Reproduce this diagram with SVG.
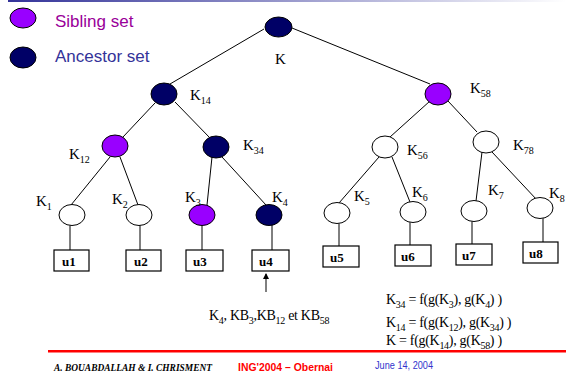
<svg xmlns="http://www.w3.org/2000/svg" width="566" height="374" viewBox="0 0 566 374">
<style>
.e{stroke:#000;stroke-width:1}
.sib{fill:#9900ff}
.anc{fill:#000066}
.wh{fill:#fff}
.lbl{font-family:"Liberation Serif","Times New Roman",serif;font-size:15px;fill:#000}
.s{font-size:10px}
.box{fill:#fff;stroke:#000;stroke-width:1.2}
.bt{font-family:"Liberation Serif","Times New Roman",serif;font-size:13px;font-weight:bold;fill:#000}
.f{font-family:"Liberation Serif","Times New Roman",serif;font-size:14px;fill:#000;letter-spacing:-0.3px}
#connectors line{stroke:#000;stroke-width:1}
</style>
<defs>
<linearGradient id="top" x1="0" y1="0" x2="1" y2="0">
<stop offset="0" stop-color="#333399"/>
<stop offset="1" stop-color="#ffffff"/>
</linearGradient>
<marker id="ah" viewBox="0 0 6 6" refX="5" refY="3" markerWidth="6" markerHeight="6" orient="auto">
<path d="M0,0 L6,3 L0,6 z" fill="#000"/>
</marker>
</defs>
<rect x="8" y="0" width="558" height="2" fill="url(#top)"/>

<g id="legend">
<ellipse class="e sib" cx="23" cy="18" rx="13" ry="10"/>
<text x="55" y="27" font-family="Liberation Sans,Arial,sans-serif" font-size="17" fill="#990099">Sibling set</text>
<ellipse class="e anc" cx="23" cy="57.5" rx="13" ry="10.5"/>
<text x="55" y="62" font-family="Liberation Sans,Arial,sans-serif" font-size="17" fill="#333399">Ancestor set</text>
</g>

<g id="connectors">
<line x1="264" y1="29" x2="170" y2="84"/>
<line x1="292" y1="28" x2="430" y2="84"/>
<line x1="155" y1="103" x2="123" y2="137"/>
<line x1="175" y1="102" x2="210" y2="138"/>
<line x1="110" y1="157" x2="71" y2="205"/>
<line x1="120" y1="157" x2="138" y2="205"/>
<line x1="212" y1="157" x2="207" y2="205"/>
<line x1="222" y1="157" x2="266" y2="205"/>
<line x1="430" y1="101" x2="390" y2="137"/>
<line x1="448" y1="101" x2="477" y2="132"/>
<line x1="379" y1="157" x2="339" y2="203"/>
<line x1="392" y1="157" x2="410" y2="202"/>
<line x1="482" y1="152" x2="476" y2="201"/>
<line x1="492" y1="152" x2="537" y2="200"/>
<line x1="70" y1="225" x2="70" y2="250"/>
<line x1="140" y1="225" x2="140" y2="250"/>
<line x1="202" y1="225" x2="202" y2="250"/>
<line x1="272" y1="225" x2="272" y2="250"/>
<line x1="339" y1="223" x2="339" y2="246"/>
<line x1="410" y1="222" x2="410" y2="245"/>
<line x1="472" y1="221" x2="472" y2="244"/>
<line x1="543" y1="218" x2="543" y2="242"/>
<line x1="266" y1="292" x2="266" y2="274" marker-end="url(#ah)"/>
</g>

<g id="K"><ellipse class="e anc" cx="278.5" cy="27" rx="13.5" ry="10"/><text class="lbl" x="275" y="64">K</text></g>
<g id="K14"><ellipse class="e anc" cx="164" cy="94" rx="13" ry="11"/><text class="lbl" x="190" y="100">K<tspan class="s" dy="4">14</tspan></text></g>
<g id="K58"><ellipse class="e sib" cx="438" cy="94" rx="13" ry="11"/><text class="lbl" x="470" y="93">K<tspan class="s" dy="4">58</tspan></text></g>
<g id="K12"><ellipse class="e sib" cx="115" cy="146" rx="13" ry="11"/><text class="lbl" x="69" y="159">K<tspan class="s" dy="4">12</tspan></text></g>
<g id="K34"><ellipse class="e anc" cx="216" cy="147" rx="13" ry="11"/><text class="lbl" x="243" y="150">K<tspan class="s" dy="4">34</tspan></text></g>
<g id="K56"><ellipse class="e wh" cx="385" cy="147" rx="13" ry="11"/><text class="lbl" x="407" y="155">K<tspan class="s" dy="4">56</tspan></text></g>
<g id="K78"><ellipse class="e wh" cx="486" cy="142" rx="13" ry="11"/><text class="lbl" x="513" y="150">K<tspan class="s" dy="4">78</tspan></text></g>

<g id="K1"><ellipse class="e wh" cx="72" cy="215" rx="13" ry="10.5"/><text class="lbl" x="36" y="206">K<tspan class="s" dy="4">1</tspan></text></g>
<g id="K2"><ellipse class="e wh" cx="139" cy="215" rx="13" ry="10.5"/><text class="lbl" x="112" y="204">K<tspan class="s" dy="4">2</tspan></text></g>
<g id="K3"><ellipse class="e sib" cx="202" cy="215" rx="13" ry="10.5"/><text class="lbl" x="185" y="202">K<tspan class="s" dy="4">3</tspan></text></g>
<g id="K4"><ellipse class="e anc" cx="269" cy="215" rx="13" ry="10.5"/><text class="lbl" x="272" y="202">K<tspan class="s" dy="4">4</tspan></text></g>
<g id="K5"><ellipse class="e wh" cx="337" cy="213" rx="13" ry="10.5"/><text class="lbl" x="354" y="201">K<tspan class="s" dy="4">5</tspan></text></g>
<g id="K6"><ellipse class="e wh" cx="413" cy="212" rx="13" ry="10.5"/><text class="lbl" x="412" y="197">K<tspan class="s" dy="4">6</tspan></text></g>
<g id="K7"><ellipse class="e wh" cx="474" cy="211" rx="13" ry="10.5"/><text class="lbl" x="488" y="195">K<tspan class="s" dy="4">7</tspan></text></g>
<g id="K8"><ellipse class="e wh" cx="540" cy="208" rx="13" ry="10.5"/><text class="lbl" x="549" y="198">K<tspan class="s" dy="4">8</tspan></text></g>

<g id="u1"><rect class="box" x="54" y="250" width="35" height="21"/><text class="bt" x="62" y="266">u1</text></g>
<g id="u2"><rect class="box" x="126" y="250" width="35" height="21"/><text class="bt" x="134" y="266">u2</text></g>
<g id="u3"><rect class="box" x="186" y="250" width="37" height="21"/><text class="bt" x="193" y="266">u3</text></g>
<g id="u4"><rect class="box" x="252" y="250" width="37" height="21"/><text class="bt" x="259" y="266">u4</text></g>
<g id="u5"><rect class="box" x="323" y="246" width="36" height="21"/><text class="bt" x="330" y="262">u5</text></g>
<g id="u6"><rect class="box" x="395" y="245" width="36" height="21"/><text class="bt" x="401" y="261">u6</text></g>
<g id="u7"><rect class="box" x="456" y="244" width="36" height="21"/><text class="bt" x="462" y="260">u7</text></g>
<g id="u8"><rect class="box" x="523" y="242" width="35" height="21"/><text class="bt" x="529" y="258">u8</text></g>

<g id="keys">
<text class="f" x="209" y="320">K<tspan class="s" dy="4">4</tspan><tspan dy="-4">, KB</tspan><tspan class="s" dy="4">3</tspan><tspan dy="-4">,KB</tspan><tspan class="s" dy="4">12</tspan><tspan dy="-4"> et KB</tspan><tspan class="s" dy="4">58</tspan></text>
</g>

<g id="formulas">
<text class="f" x="386" y="304">K<tspan class="s" dy="4">34</tspan><tspan dy="-4"> = f(g(K</tspan><tspan class="s" dy="4">3</tspan><tspan dy="-4">), g(K</tspan><tspan class="s" dy="4">4</tspan><tspan dy="-4">) )</tspan></text>
<text class="f" x="386" y="327">K<tspan class="s" dy="4">14</tspan><tspan dy="-4"> = f(g(K</tspan><tspan class="s" dy="4">12</tspan><tspan dy="-4">), g(K</tspan><tspan class="s" dy="4">34</tspan><tspan dy="-4">) )</tspan></text>
<text class="f" x="386" y="345">K = f(g(K<tspan class="s" dy="4">14</tspan><tspan dy="-4">), g(K</tspan><tspan class="s" dy="4">58</tspan><tspan dy="-4">) )</tspan></text>
</g>

<g id="footer">
<rect x="48" y="350" width="518" height="2.5" fill="#ff0000"/>
<text x="54" y="371" font-family="Liberation Serif,Times New Roman,serif" font-size="10" font-style="italic" font-weight="bold" fill="#000" textLength="158" lengthAdjust="spacingAndGlyphs">A. BOUABDALLAH &amp; I. CHRISMENT</text>
<text x="238" y="371" font-family="Liberation Sans,Arial,sans-serif" font-size="10" font-weight="bold" fill="#ff0000" textLength="95" lengthAdjust="spacingAndGlyphs">ING'2004 – Obernai</text>
<text x="375" y="369" font-family="Liberation Sans,Arial,sans-serif" font-size="10" fill="#3333cc" textLength="58" lengthAdjust="spacingAndGlyphs">June 14, 2004</text>
</g>
</svg>
